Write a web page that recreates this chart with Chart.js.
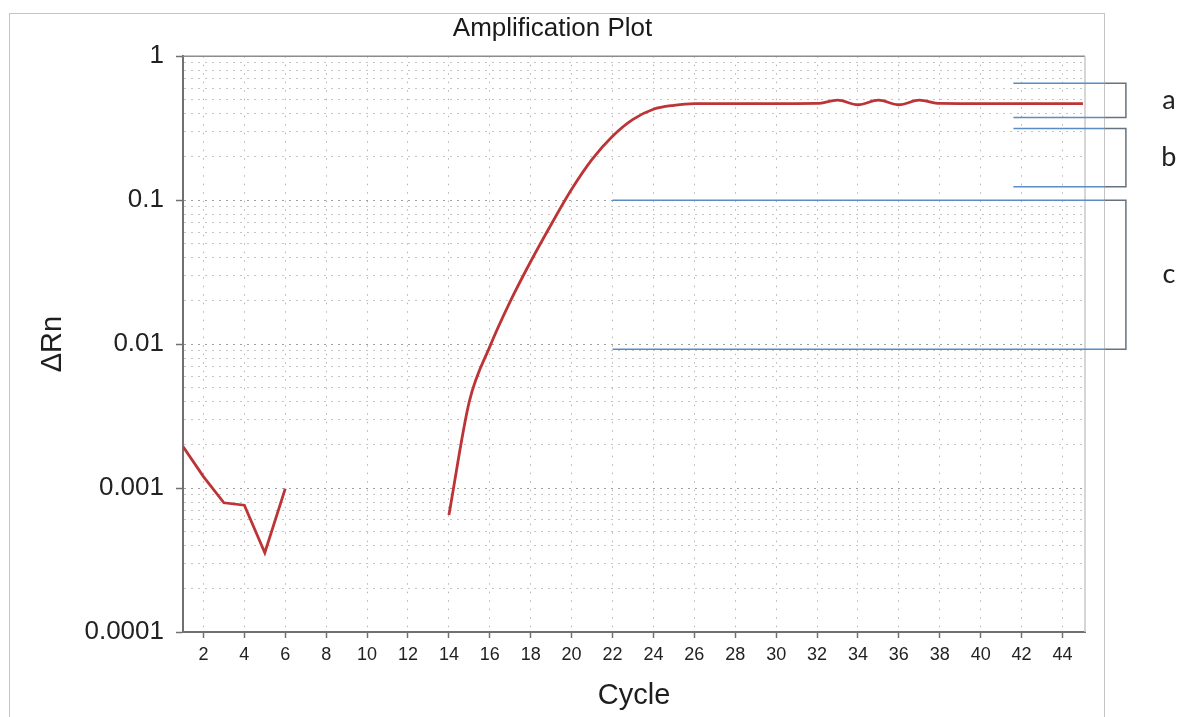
<!DOCTYPE html>
<html>
<head>
<meta charset="utf-8">
<title>Amplification Plot</title>
<script src="https://cdn.jsdelivr.net/npm/chart.js@4.4.1/dist/chart.umd.min.js"></script>
<style>
  body { margin: 0; background: #fff; overflow: hidden; }
  #wrap { position: relative; width: 1181px; height: 717px; }
  #frame { position: absolute; left: 9px; top: 13px; width: 1094px; height: 720px; border: 1px solid #c4c4c4; }
  #chart { position: absolute; left: 0; top: 0; }
</style>
</head>
<body>
<div id="wrap">
  <div id="frame"></div>
  <canvas id="chart" width="1181" height="717"></canvas>
</div>
<script>
// Cycle numbers and delta Rn readings (null = not plotted)
const cycles = [1, 2, 3, 4, 5, 6, 7, 8, 9, 10, 11, 12, 13, 14, 15, 16, 17, 18, 19, 20, 21, 22, 23,
  24, 25, 26, 27, 28, 29, 30, 31, 32, 33, 34, 35, 36, 37, 38, 39, 40, 41, 42, 43, 44, 45];
const deltaRn = [0.00194, 0.0012, 0.00079, 0.00076, 0.000355, 0.00099,
  null, null, null, null, null, null, null,
  0.00065, 0.004, 0.0096, 0.0198, 0.0375, 0.0678, 0.119, 0.192, 0.278, 0.364, 0.428, 0.456,
  0.469, 0.469, 0.469, 0.469, 0.469, 0.469, 0.47, 0.495, 0.46, 0.495, 0.46, 0.495, 0.47,
  0.469, 0.469, 0.469, 0.469, 0.469, 0.469, 0.469];

// Axis ticks
const cycleTicks = [2, 4, 6, 8, 10, 12, 14, 16, 18, 20, 22, 24, 26, 28, 30, 32, 34, 36, 38, 40, 42, 44];
const yTickValues = [0.0001, 0.001, 0.01, 0.1, 1];
const yTickLabels = ['0.0001', '0.001', '0.01', '0.1', '1'];

// Range brackets on the right (cycle where the blue line starts, top and bottom values)
const bracketLabels = ['a', 'b', 'c'];
const bracketStart = [41.6, 41.6, 22];
const bracketTop = [0.65, 0.314, 0.1];
const bracketBottom = [0.375, 0.124, 0.0092];
const lineEndCycle = 46.05;
const bracketCycle = 47.1;
const labelCycle = 49.2;

// split the series into runs without gaps
function runs(xs, ys) {
  const out = [];
  let cur = [];
  xs.forEach((x, i) => {
    if (ys[i] === null) {
      if (cur.length) out.push(cur);
      cur = [];
    } else {
      cur.push({ x: x, y: ys[i] });
    }
  });
  if (cur.length) out.push(cur);
  return out;
}
const parts = runs(cycles, deltaRn);

const lineColor = 'rgb(188, 52, 54)';

const frameLines = {
  id: 'frameLines',
  beforeDatasetsDraw(chart) {
    const { ctx, chartArea: a } = chart;
    ctx.save();
    ctx.lineWidth = 1.5;
    ctx.strokeStyle = '#8c8c8c';
    ctx.beginPath();
    ctx.moveTo(a.left, a.top);
    ctx.lineTo(a.right, a.top);
    ctx.stroke();
    ctx.strokeStyle = '#c8c8c8';
    ctx.beginPath();
    ctx.moveTo(a.right, a.top);
    ctx.lineTo(a.right, a.bottom);
    ctx.stroke();
    ctx.restore();
  }
};

const brackets = {
  id: 'brackets',
  afterDraw(chart) {
    const { ctx, scales: { x, y } } = chart;
    ctx.save();
    bracketLabels.forEach((label, i) => {
      const yt = y.getPixelForValue(bracketTop[i]);
      const yb = y.getPixelForValue(bracketBottom[i]);
      const x0 = x.getPixelForValue(bracketStart[i]);
      const x1 = x.getPixelForValue(lineEndCycle);
      const xb = x.getPixelForValue(bracketCycle);
      ctx.lineWidth = 1.5;
      ctx.strokeStyle = '#66727f';
      ctx.beginPath();
      ctx.moveTo(x1, yt);
      ctx.lineTo(xb, yt);
      ctx.lineTo(xb, yb);
      ctx.lineTo(x1, yb);
      ctx.stroke();
      ctx.strokeStyle = '#5b8cc6';
      [yt, yb].forEach(py => {
        ctx.beginPath();
        ctx.moveTo(x0, py);
        ctx.lineTo(x1, py);
        ctx.stroke();
      });
      ctx.fillStyle = '#222';
      ctx.font = '27px Lato, "Noto Sans", sans-serif';
      ctx.textAlign = 'center';
      ctx.textBaseline = 'middle';
      ctx.fillText(label, x.getPixelForValue(labelCycle), (yt + yb) / 2);
    });
    ctx.restore();
  }
};

const axisFont = '"Liberation Sans", Arial, sans-serif';

new Chart(document.getElementById('chart'), {
  type: 'line',
  data: {
    datasets: parts.map((pts, i) => ({
      label: i === 0 ? 'Baseline' : 'Amplification',
      data: pts,
      borderColor: lineColor,
      borderWidth: 2.8,
      pointRadius: 0,
      fill: false,
      cubicInterpolationMode: i === 0 ? 'default' : 'monotone',
      tension: 0
    }))
  },
  options: {
    responsive: false,
    animation: false,
    layout: { padding: { left: 20, right: 96, top: 13, bottom: 0 } },
    plugins: {
      legend: { display: false },
      tooltip: { enabled: false },
      title: {
        display: true,
        text: 'Amplification Plot',
        color: '#1a1a1a',
        font: { family: axisFont, size: 26, weight: 'normal' },
        padding: { top: 0, bottom: 12 }
      }
    },
    scales: {
      x: {
        type: 'linear',
        min: 1,
        max: 45.1,
        afterBuildTicks: s => { s.ticks = cycleTicks.map(v => ({ value: v })); },
        afterFit: s => { s.height = 85; },
        ticks: {
          autoSkip: false,
          maxRotation: 0,
          padding: 6,
          color: '#222',
          font: { family: axisFont, size: 18 },
          callback: v => String(v)
        },
        grid: {
          color: '#b4b4b4',
          lineWidth: 1,
          tickLength: 6,
          tickColor: '#707070',
          tickWidth: 1.5,
          tickBorderDash: []
        },
        border: { display: true, color: '#707070', width: 2, dash: [1.5, 7] },
        title: {
          display: true,
          text: 'Cycle',
          color: '#1e1e1e',
          font: { family: axisFont, size: 29 },
          padding: { top: 0, bottom: 4 }
        }
      },
      y: {
        type: 'logarithmic',
        min: 0.0001,
        max: 1,
        afterBuildTicks: s => {
          const t = [];
          yTickValues.forEach((d, i) => {
            t.push({ value: d });
            if (i < yTickValues.length - 1) {
              for (let m = 2; m <= 9; m++) t.push({ value: m * d });
            }
          });
          s.ticks = t;
        },
        afterFit: s => { s.width = 163; },
        ticks: {
          autoSkip: false,
          padding: 12,
          color: '#222',
          font: { family: axisFont, size: 26 },
          callback: v => {
            const k = yTickValues.findIndex(d => Math.abs(d - v) < d * 1e-6);
            return k >= 0 ? yTickLabels[k] : '';
          }
        },
        grid: {
          color: ctx => yTickValues.some(d => Math.abs(d - ctx.tick.value) < d * 1e-6) ? '#a0a0a0' : '#c4c4c4',
          lineWidth: 1,
          tickLength: 7,
          tickColor: ctx => yTickValues.some(d => Math.abs(d - ctx.tick.value) < d * 1e-6) ? '#707070' : 'rgba(0,0,0,0)',
          tickWidth: 1.5,
          tickBorderDash: []
        },
        border: { display: true, color: '#707070', width: 2, dash: [2, 5] },
        title: {
          display: true,
          text: 'ΔRn',
          color: '#1e1e1e',
          font: { family: axisFont, size: 29 },
          padding: { top: 16, bottom: 0 }
        }
      }
    }
  },
  plugins: [frameLines, brackets]
});
</script>
</body>
</html>
